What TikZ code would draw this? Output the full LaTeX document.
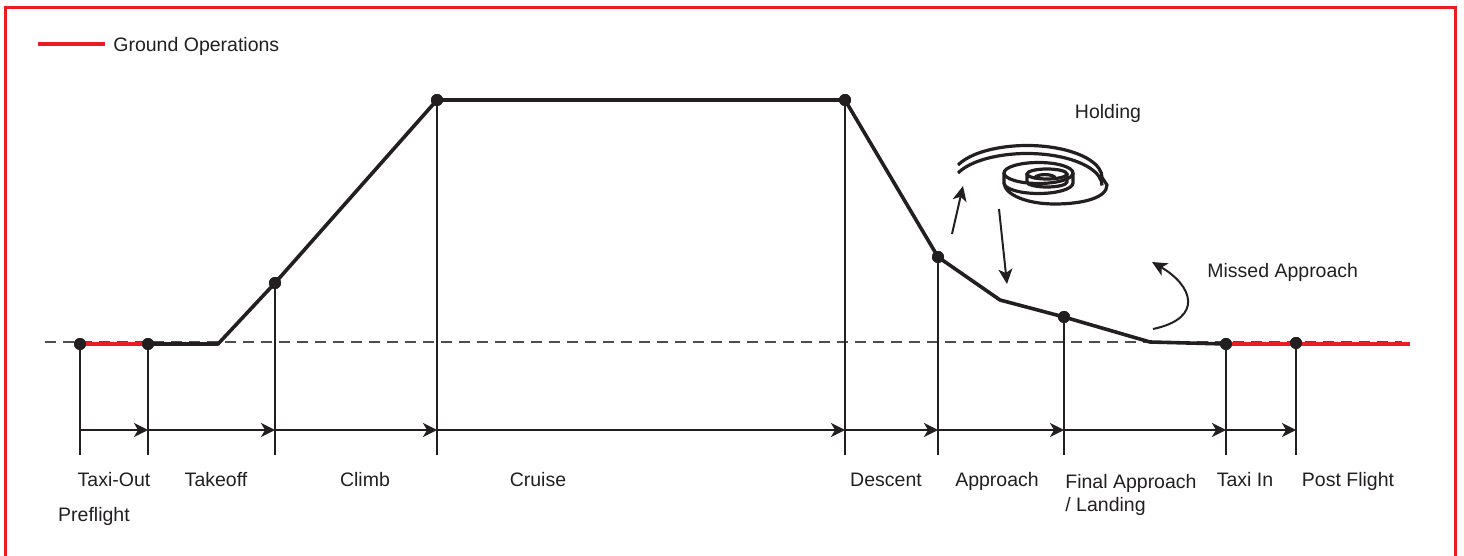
\documentclass[tikz,border=0pt]{standalone}
\usepackage{fontspec}
\setmainfont{Liberation Sans}
\usetikzlibrary{arrows.meta}
\definecolor{ink}{HTML}{231F20}
\definecolor{groundred}{HTML}{ED1C24}
\definecolor{dashgray}{HTML}{4D4D4D}

\begin{document}
\begin{tikzpicture}[x=0.5pt,y=-0.5pt,
  label/.style={font=\fontsize{9.75}{11.5}\selectfont, text=ink, inner sep=0pt},
  flightpath/.style={draw=ink, line width=1.8pt, line join=round},
  groundop/.style={draw=groundred, line width=1.7pt},
  waypoint/.style={circle, fill=ink, minimum size=6pt, inner sep=0pt},
  phaseline/.style={draw=ink, line width=0.9pt},
  phasearrow/.style={draw=ink, line width=0.9pt, -{Stealth[length=7pt,width=7pt,inset=2pt]}},
  pointer/.style={draw=ink, line width=1pt, -{Stealth[length=7.5pt,width=7pt,inset=2pt]}},
  coil/.style={draw=ink, line width=1.6pt},
  baseline/.style={draw=dashgray, line width=0.55pt, dash pattern=on 5.5pt off 3.5pt},
  frame/.style={draw=groundred, line width=1.4pt}]

\useasboundingbox (0,0) rectangle (1464,556);

% outer frame, open at the bottom
\draw[frame] (5.5,556) -- (5.5,7.5) -- (1455.5,7.5) -- (1455.5,556);

% legend
\coordinate (legA) at (38,44);
\coordinate (legB) at (105,44);
\draw[groundop, line width=2pt] (legA) -- (legB);
\node[label, anchor=base west] (legtext) at (113,52) {Ground Operations};

% ground level reference
\coordinate (refL) at (45,342);
\coordinate (refR) at (1402,342);
\draw[baseline] (refL) -- (refR);

% profile points
\node[waypoint] (p1) at (80,344) {};
\node[waypoint] (p2) at (148,344) {};
\coordinate (roll) at (218,344);
\node[waypoint] (p3) at (275,283) {};
\node[waypoint] (p4) at (437,100) {};
\node[waypoint] (p5) at (845,100) {};
\node[waypoint] (p6) at (938,257) {};
\coordinate (kink) at (1000,300);
\node[waypoint] (p7) at (1064,317) {};
\coordinate (flare) at (1150,342);
\node[waypoint] (p8) at (1226,344) {};
\node[waypoint] (p9) at (1296,343) {};
\coordinate (gend) at (1410,344);

% phase boundaries
\foreach \p in {p1,p2,p3,p4,p5,p6,p7,p8,p9}
  \draw[phaseline] (\p.center) -- (\p.center |- 0,455);

% phase arrows
\foreach \a/\b in {p1/p2,p2/p3,p3/p4,p4/p5,p5/p6,p6/p7,p7/p8,p8/p9}
  \draw[phasearrow] (\a.center |- 0,430) -- (\b.center |- 0,430);

% ground segments
\draw[groundop] (p1.center) -- (p2.center);
\draw[groundop] (p8.center |- 0,344) -- (gend);

% flight profile
\draw[flightpath] (p2.center) -- (roll) -- (p3.center) -- (p4.center)
  -- (p5.center) -- (p6.center) -- (kink) -- (p7.center) -- (flare) -- (p8.center);

% redraw the points on top
\foreach \p in {p1,p2,p3,p4,p5,p6,p7,p8,p9}
  \fill[ink] (\p.center) circle (3pt);

% holding pattern coil
\draw[coil] (958,165) arc (203:360:75 and 32) -- (1107,185)
  .. controls (1107,198) and (1082,204) .. (1055,204)
  .. controls (1027,204) and (1005,195) .. (1004,183);
\draw[coil] (958,173) arc (203:360:75 and 32);
\draw[coil] (1038.5,173) ellipse (34.5 and 10.5);
\draw[coil] (1004,173) -- (1004,183) arc (180:0:34.5 and 10.5) -- (1073,173);
\draw[coil] (1047,174) ellipse (20 and 5);
\draw[coil] (1027,174) -- (1027,182) arc (180:0:20 and 5) -- (1067,174);
\draw[coil] (1055,178) arc (0:-200:10 and 3.4);

\coordinate (upA) at (952,234);
\coordinate (upB) at (963,186);
\draw[pointer] (upA) -- (upB);
\coordinate (dnA) at (999,209);
\coordinate (dnB) at (1007,284);
\draw[pointer] (dnA) -- (dnB);

\node[label, anchor=base] (holding) at (1108,119) {Holding};

% missed approach
\coordinate (maA) at (1153,329);
\coordinate (maB) at (1152,262);
\draw[pointer] (maA) .. controls (1205,318) and (1192,285) .. (maB);
\node[label, anchor=base west] (missed) at (1207,278) {Missed Approach};

% phase names
\node[label, anchor=base] (lTaxiOut) at (114,486) {Taxi-Out};
\node[label, anchor=base] (lPre) at (94,521) {Preflight};
\node[label, anchor=base] (lTake) at (216,486) {Takeoff};
\node[label, anchor=base] (lClimb) at (365,486) {Climb};
\node[label, anchor=base] (lCruise) at (538,486) {Cruise};
\node[label, anchor=base] (lDesc) at (886,486) {Descent};
\node[label, anchor=base] (lAppr) at (997,486) {Approach};
\node[label, anchor=base west] (lFinal) at (1065,488) {Final Approach};
\node[label, anchor=base west] (lLand) at (1065,511) {/ Landing};
\node[label, anchor=base] (lTaxiIn) at (1245,486) {Taxi In};
\node[label, anchor=base] (lPost) at (1348,486) {Post Flight};

\end{tikzpicture}
\end{document}
